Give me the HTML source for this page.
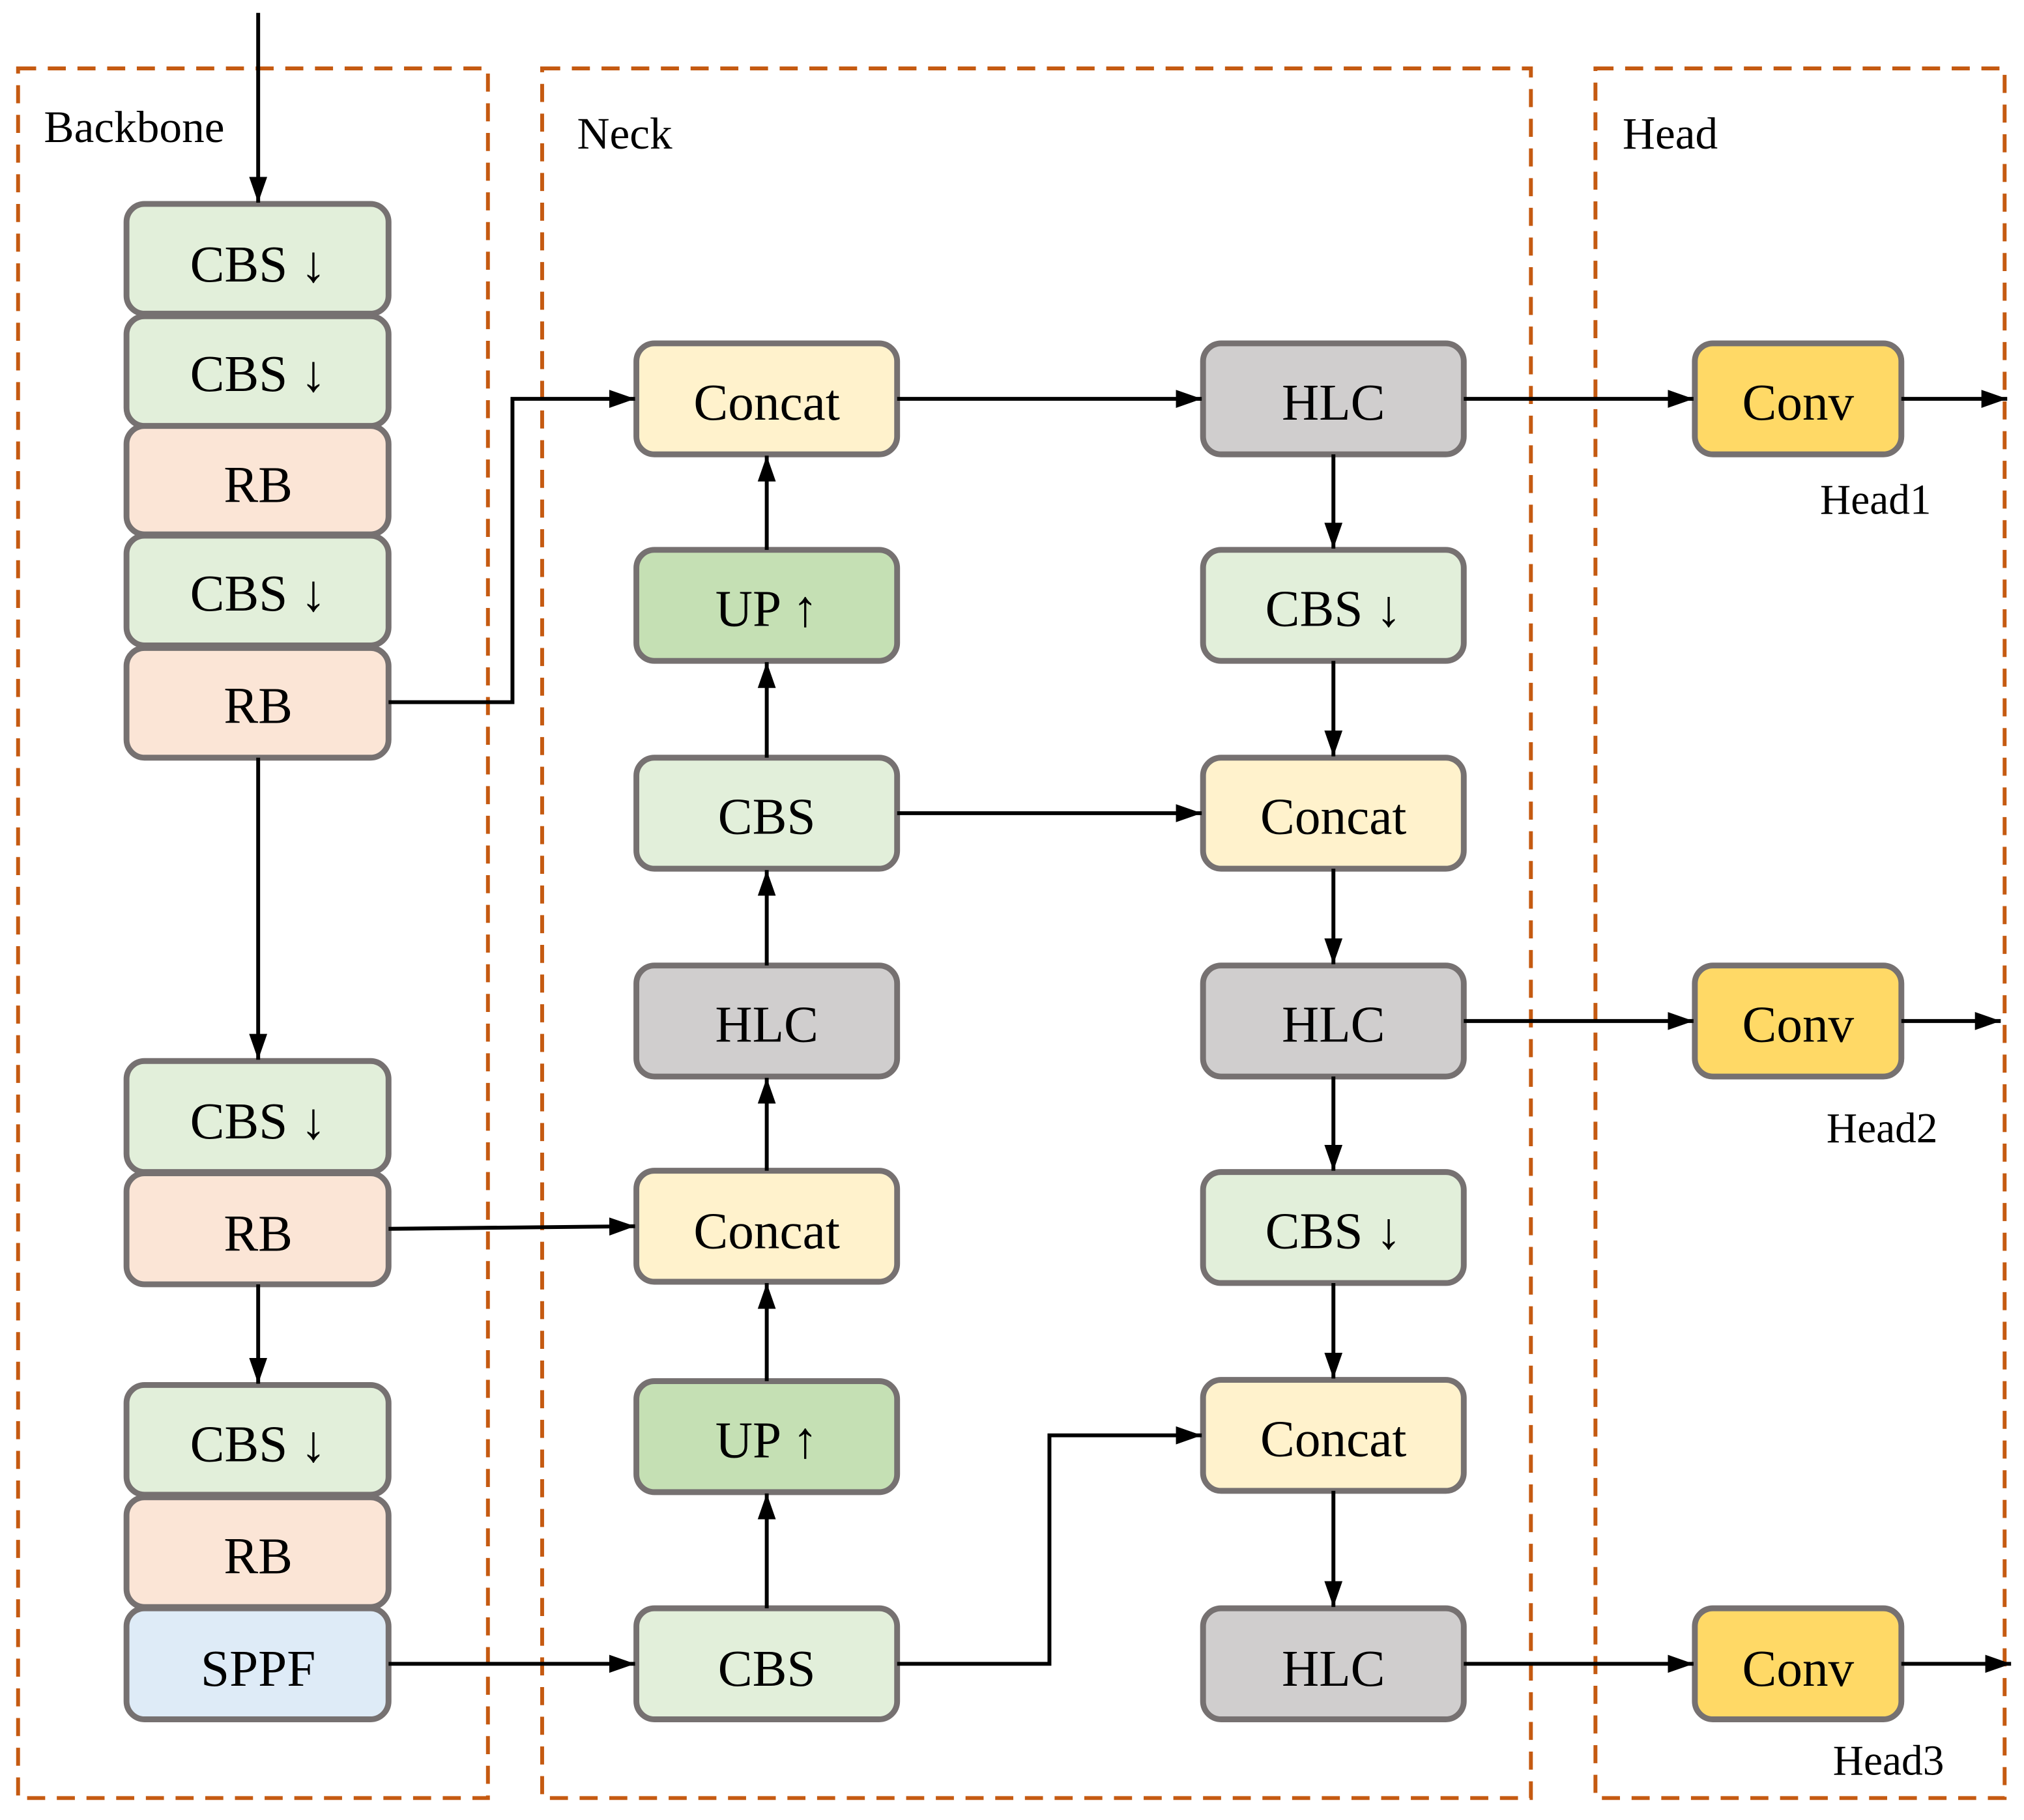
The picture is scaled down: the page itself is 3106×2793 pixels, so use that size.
<!DOCTYPE html>
<html><head><meta charset="utf-8"><style>
html,body{margin:0;padding:0;background:#fff;width:3106px;height:2793px;overflow:hidden}
svg{display:block}
text{font-family:"Liberation Serif",serif;fill:#000}
</style></head><body>
<svg width="3106" height="2793" viewBox="0 0 1568 1410" xmlns="http://www.w3.org/2000/svg">
<defs>
<marker id="b" viewBox="0 0 10 10" refX="10" refY="5" markerWidth="20" markerHeight="20" orient="auto" markerUnits="userSpaceOnUse">
<path d="M0,1.5 L10,5 L0,8.5 z" fill="#000"/></marker>
</defs>
<g fill="none" stroke="#c55a11" stroke-width="3" stroke-dasharray="14,9">
<rect x="14" y="53" width="364" height="1340"/>
<rect x="420" y="53" width="766" height="1340"/>
<rect x="1236" y="53" width="317" height="1340"/>
</g>
<text x="34" y="110" font-size="35">Backbone</text>
<text x="447" y="115" font-size="35">Neck</text>
<text x="1257" y="115" font-size="35">Head</text>
<g stroke="#767171" stroke-width="4.5">
<rect x="98" y="158" width="203" height="85" rx="14" fill="#e2efda"/>
<rect x="98" y="245" width="203" height="85" rx="14" fill="#e2efda"/>
<rect x="98" y="330" width="203" height="84" rx="14" fill="#fbe5d6"/>
<rect x="98" y="415" width="203" height="85" rx="14" fill="#e2efda"/>
<rect x="98" y="502" width="203" height="85" rx="14" fill="#fbe5d6"/>
<rect x="98" y="822" width="203" height="86" rx="14" fill="#e2efda"/>
<rect x="98" y="909" width="203" height="86" rx="14" fill="#fbe5d6"/>
<rect x="98" y="1073" width="203" height="85" rx="14" fill="#e2efda"/>
<rect x="98" y="1160" width="203" height="85" rx="14" fill="#fbe5d6"/>
<rect x="98" y="1246" width="203" height="86" rx="14" fill="#deebf7"/>
<rect x="493" y="266" width="202" height="86" rx="14" fill="#fff2cc"/>
<rect x="493" y="426" width="202" height="86" rx="14" fill="#c5e0b4"/>
<rect x="493" y="587" width="202" height="86" rx="14" fill="#e2efda"/>
<rect x="493" y="748" width="202" height="86" rx="14" fill="#d0cece"/>
<rect x="493" y="907" width="202" height="86" rx="14" fill="#fff2cc"/>
<rect x="493" y="1070" width="202" height="86" rx="14" fill="#c5e0b4"/>
<rect x="493" y="1246" width="202" height="86" rx="14" fill="#e2efda"/>
<rect x="932" y="266" width="202" height="86" rx="14" fill="#d0cece"/>
<rect x="932" y="426" width="202" height="86" rx="14" fill="#e2efda"/>
<rect x="932" y="587" width="202" height="86" rx="14" fill="#fff2cc"/>
<rect x="932" y="748" width="202" height="86" rx="14" fill="#d0cece"/>
<rect x="932" y="908" width="202" height="86" rx="14" fill="#e2efda"/>
<rect x="932" y="1069" width="202" height="86" rx="14" fill="#fff2cc"/>
<rect x="932" y="1246" width="202" height="86" rx="14" fill="#d0cece"/>
<rect x="1313" y="266" width="160" height="86" rx="14" fill="#ffd966"/>
<rect x="1313" y="748" width="160" height="86" rx="14" fill="#ffd966"/>
<rect x="1313" y="1246" width="160" height="86" rx="14" fill="#ffd966"/>
</g>
<g font-size="40" text-anchor="middle">
<text x="200" y="218">CBS <tspan font-weight="bold">↓</tspan></text>
<text x="200" y="303">CBS <tspan font-weight="bold">↓</tspan></text>
<text x="200" y="389">RB</text>
<text x="200" y="473">CBS <tspan font-weight="bold">↓</tspan></text>
<text x="200" y="560">RB</text>
<text x="200" y="882">CBS <tspan font-weight="bold">↓</tspan></text>
<text x="200" y="969">RB</text>
<text x="200" y="1132">CBS <tspan font-weight="bold">↓</tspan></text>
<text x="200" y="1219">RB</text>
<text x="200" y="1306">SPPF</text>
<text x="594" y="325">Concat</text>
<text x="594" y="485">UP <tspan font-weight="bold">↑</tspan></text>
<text x="594" y="646">CBS</text>
<text x="594" y="807">HLC</text>
<text x="594" y="967">Concat</text>
<text x="594" y="1129">UP <tspan font-weight="bold">↑</tspan></text>
<text x="594" y="1306">CBS</text>
<text x="1033" y="325">HLC</text>
<text x="1033" y="485">CBS <tspan font-weight="bold">↓</tspan></text>
<text x="1033" y="646">Concat</text>
<text x="1033" y="807">HLC</text>
<text x="1033" y="967">CBS <tspan font-weight="bold">↓</tspan></text>
<text x="1033" y="1128">Concat</text>
<text x="1033" y="1306">HLC</text>
<text x="1393" y="325">Conv</text>
<text x="1393" y="807">Conv</text>
<text x="1393" y="1306">Conv</text>
</g>
<g font-size="33">
<text x="1410" y="398">Head1</text>
<text x="1415" y="885">Head2</text>
<text x="1420" y="1375">Head3</text>
</g>
<g fill="none" stroke="#000" stroke-width="3" marker-end="url(#b)">
<path d="M200,10 V157"/>
<path d="M301,544 H397 V309 H492"/>
<path d="M200,587 V821"/>
<path d="M301,952 L492,950"/>
<path d="M200,995 V1072"/>
<path d="M301,1289 H492"/>
<path d="M695,1289 H813 V1112 H931"/>
<path d="M594,1246 V1157"/>
<path d="M594,1070 V994"/>
<path d="M594,907 V835"/>
<path d="M594,748 V674"/>
<path d="M594,587 V513"/>
<path d="M594,426 V353"/>
<path d="M695,309 H931"/>
<path d="M695,630 H931"/>
<path d="M1033,352 V425"/>
<path d="M1033,512 V586"/>
<path d="M1033,673 V747"/>
<path d="M1033,834 V907"/>
<path d="M1033,994 V1068"/>
<path d="M1033,1155 V1245"/>
<path d="M1134,309 H1312"/>
<path d="M1134,791 H1312"/>
<path d="M1134,1289 H1312"/>
<path d="M1473,309 H1555"/>
<path d="M1473,791 H1550"/>
<path d="M1473,1289 H1558"/>
</g>
</svg>
</body></html>
